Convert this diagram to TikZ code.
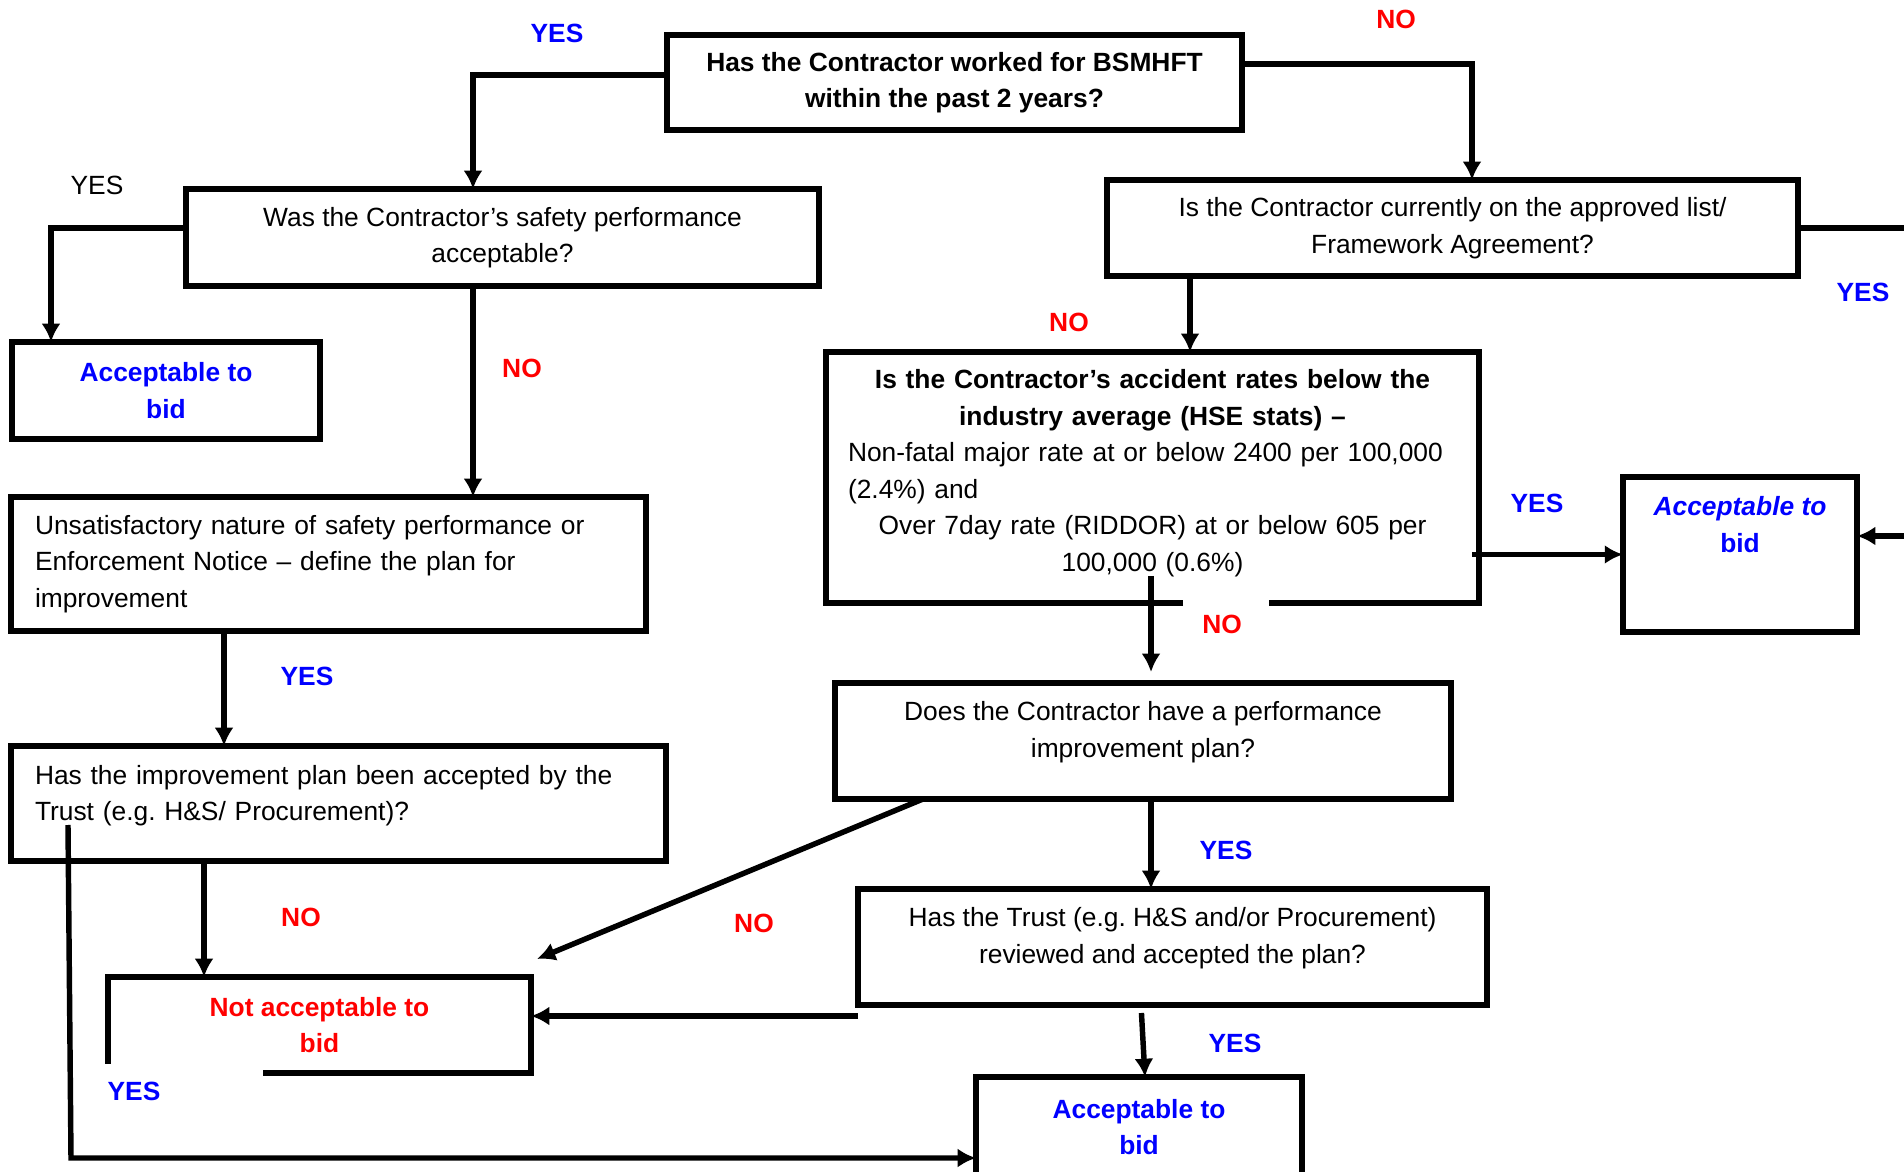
\documentclass[tikz,border=0pt]{standalone}
\usepackage{fontspec}
\setmainfont{Liberation Sans}
\usepackage{tikz}
\usetikzlibrary{arrows.meta}
\usetikzlibrary{positioning}
\definecolor{yesblue}{RGB}{0,0,255}
\definecolor{nored}{RGB}{255,0,0}
\tikzset{my_chart/.style={x=0.1mm,y=-0.1mm,line width=1.55pt,>={Latex[length=5.2pt,width=5.4pt]}}}
\tikzset{my_open/.style={rectangle, inner sep=0pt, outer sep=0pt}}
\tikzset{my_box/.style={my_open, draw, align=center}}
\tikzset{my_yes/.style={text=yesblue, font=\bfseries}}
\tikzset{my_no/.style={text=nored, font=\bfseries}}

\begin{document}
\begin{tikzpicture}[my_chart]
    \fontsize{7.5}{10.4}\selectfont
    \useasboundingbox (0,0) rectangle (1904,1172);
    %\draw[help lines,step=100] (0,0) grid (1904,1172);

    % questions
    \node[my_box, minimum width=57.5mm, minimum height=9.5mm, font=\bfseries] (worked) at (954.5,82.5)
        {Has the Contractor worked for BSMHFT\\within the past 2 years?};
    \node[my_box, minimum width=63.3mm, minimum height=9.7mm] (safety) at (502.5,237.5)
        {Was the Contractor’s safety performance\\acceptable?};
    \node[my_box, minimum width=69.1mm, minimum height=9.6mm] (list) at (1452.5,228)
        {Is the Contractor currently on the approved list/\\Framework Agreement?};
    \node[my_open, minimum width=65.3mm, minimum height=25.1mm, text width=60.9mm] (rates) at (1152.5,477.5)
        {{\centering\bfseries Is the Contractor’s accident rates below the\\industry average (HSE stats) –\par}
         {\raggedright Non-fatal major rate at or below 2400 per 100,000\\(2.4\%) and\par}
         {\centering Over 7day rate (RIDDOR) at or below 605 per\\100,000 (0.6\%)\rule[-1.4mm]{0pt}{1.4mm}\par}};
    \node[my_box, minimum width=63.5mm, minimum height=13.4mm, text width=58.7mm, align=left] (unsat) at (328.5,564)
        {Unsatisfactory nature of safety performance or\\Enforcement Notice – define the plan for\\improvement};
    \node[my_box, minimum width=61.6mm, minimum height=11.6mm] (plan) at (1143,741)
        {Does the Contractor have a performance\\improvement plan?\rule[-2.3mm]{0pt}{2.3mm}};
    \node[my_box, minimum width=65.5mm, minimum height=11.5mm, text width=60.7mm, align=left] (impr) at (338.5,803.5)
        {Has the improvement plan been accepted by the\\Trust (e.g.\ H\&S/ Procurement)?\rule[-2.1mm]{0pt}{2.1mm}};
    \node[my_box, minimum width=62.9mm, minimum height=11.6mm] (trust) at (1172.5,947)
        {Has the Trust (e.g.\ H\&S and/or Procurement)\\reviewed and accepted the plan?\rule[-2.3mm]{0pt}{2.3mm}};

    % outcomes
    \node[my_box, my_yes, minimum width=30.8mm, minimum height=9.7mm] (accleft) at (166,390.5)
        {Acceptable to\\bid};
    \node[my_box, my_yes, minimum width=23.4mm, minimum height=15.5mm] (accright) at (1740,554.5)
        {{\itshape Acceptable to}\\bid\rule[-6mm]{0pt}{6mm}};
    \node[my_open, my_no, align=center, minimum width=42.3mm, minimum height=9.6mm] (notacc) at (319.5,1025)
        {Not acceptable to\\bid};
    \node[my_box, my_yes, minimum width=32.6mm, minimum height=10mm] (accbot) at (1139,1127)
        {Acceptable to\\bid};

    % open outlines
    \draw ([xshift=3.05mm]rates.south) -- (rates.south west) -- (rates.north west)
        -- (rates.north east) -- (rates.south east) -- ([xshift=11.65mm]rates.south);
    \draw ([xshift=15.5mm]notacc.south west) -- (notacc.south east) -- (notacc.north east)
        -- (notacc.north west) -- ([yshift=0.9mm]notacc.south west);

    % loose ends
    \coordinate (edge_r) at (1904,228);
    \coordinate (in_r) at (1904,536);
    \coordinate (rates_out) at (1151,576);
    \coordinate (no_in) at (537,959);
    \coordinate (impr_yes) at (68,825);
    \coordinate (low_turn) at (71,1158);

    % connectors
    \draw[->] ([yshift=0.75mm]worked.west) -| ([xshift=-2.95mm]safety.north);
    \draw[->] ([yshift=1.85mm]worked.east) -| ([xshift=1.95mm]list.north);
    \draw[->] ([yshift=0.95mm]safety.west) -| ([xshift=-11.5mm]accleft.north);
    \draw[->] ([xshift=-2.95mm]safety.south) coordinate (s1) -- (s1 |- unsat.north);
    \draw (list.east) -- (edge_r);
    \draw[->] ([xshift=-26.25mm]list.south) coordinate (l1) -- (l1 |- rates.north);
    \draw[->] ([xshift=-0.7mm]rates.east |- accright.west) -- (accright.west);
    \draw[->] (in_r) -- (in_r -| accright.east);
    \draw[->, shorten >=1.1mm] (rates_out) -- (rates_out |- plan.north);
    \draw[->] (rates_out |- plan.south) -- (rates_out |- trust.north);
    \draw[->] ([xshift=8.8mm]plan.south west) -- (no_in);
    \draw[->] ([yshift=-6.9mm]trust.west) coordinate (t1) -- (t1 -| notacc.east);
    \draw[->, shorten <=0.8mm] ([xshift=-3.15mm]trust.south) -- ([xshift=0.6mm]accbot.north);
    \draw[->] ([xshift=-10.45mm]unsat.south) coordinate (u1) -- (u1 |- impr.north);
    \draw[->] ([xshift=-13.45mm]impr.south) coordinate (i1) -- (i1 |- notacc.north);
    \draw[->] (impr_yes) -- (low_turn) -- (low_turn -| accbot.west);

    % answers
    \node[my_yes] (yes_worked) at (557,33) {YES};
    \node[my_no] (no_worked) at (1396,19) {NO};
    \node (yes_safety) at (97,185) {YES};
    \node[my_no] (no_safety) at (522,368) {NO};
    \node[my_yes] (yes_list) at (1863,292) {YES};
    \node[my_no] (no_list) at (1069,322) {NO};
    \node[my_yes] (yes_rates) at (1537,503) {YES};
    \node[my_no] (no_rates) at (1222,624) {NO};
    \node[my_yes] (yes_plan) at (1226,850) {YES};
    \node[my_no] (no_plan) at (754,923) {NO};
    \node[my_yes] (yes_trust) at (1235,1043) {YES};
    \node[my_yes] (yes_unsat) at (307,676) {YES};
    \node[my_no] (no_impr) at (301,917) {NO};
    \node[my_yes] (yes_impr) at (134,1091) {YES};
\end{tikzpicture}
\end{document}
